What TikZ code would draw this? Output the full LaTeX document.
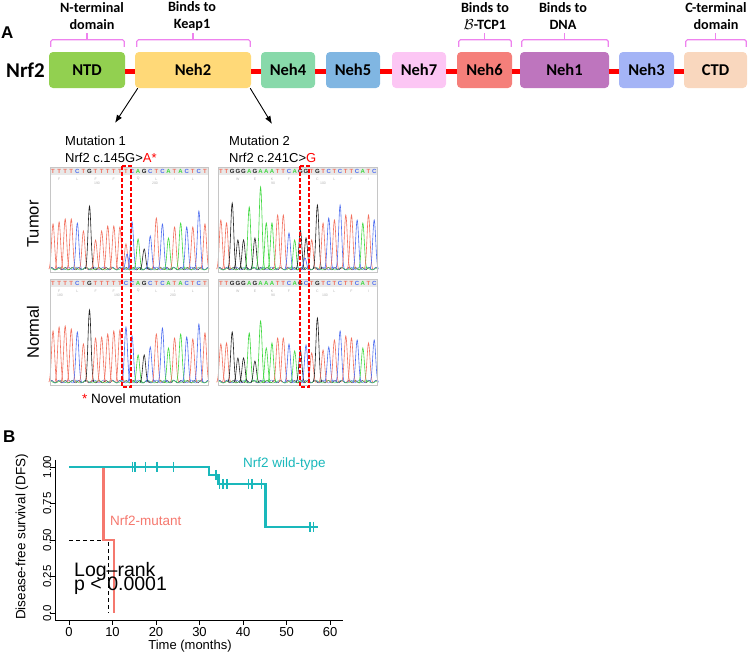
\documentclass[tikz,border=0pt]{standalone}
\usepackage{fontspec}
\setmainfont{Liberation Sans}
\newfontfamily\calibri{Carlito}
\usetikzlibrary{arrows.meta}

% domain colours
\definecolor{ntdgreen}{HTML}{92D050}
\definecolor{nehtwo}{HTML}{FFD978}
\definecolor{nehfour}{HTML}{88D9AA}
\definecolor{nehfive}{HTML}{80B6E2}
\definecolor{nehseven}{HTML}{FCC6F4}
\definecolor{nehsix}{HTML}{F57F7A}
\definecolor{nehone}{HTML}{BE75BE}
\definecolor{nehthree}{HTML}{A4B4F6}
\definecolor{ctdpeach}{HTML}{F9D7BE}
\definecolor{bracepink}{HTML}{EE82EE}
% trace colours
\definecolor{baseT}{HTML}{F2705E}
\definecolor{baseC}{HTML}{4F6EF0}
\definecolor{baseG}{HTML}{222222}
\definecolor{baseA}{HTML}{3FD83F}
% survival colours
\definecolor{wtteal}{HTML}{1AB8BB}
\definecolor{mutsalmon}{HTML}{F5786E}

% one sequencing trace: name, left x, top y, baseline y, spacing, base/height list
\newcommand{\seqtrace}[6]{%
  \foreach \bas/\hgt [count=\i] in {#6} {%
    \pgfmathsetmacro{\pk}{#2+(\i-0.5)*#5}%
    \draw[tracepeak, color=base\bas] plot[domain=-4.2:4.2, samples=19, smooth]
        ({\pk+(\x)}, {#4-\hgt*exp(-(\x)*(\x)/4.4)});
    \node[seqletter, text=base\bas] (#1\i) at (\pk, #3+4.5) {\bas};
  }}

\begin{document}
\begin{tikzpicture}[
    x=1pt, y=-1pt,
    >={Latex[length=8pt,width=6pt]},
    domainbox/.style={
        rounded corners=4pt, minimum height=36pt, inner sep=0pt,
        font=\calibri\bfseries\fontsize{16.5}{17}\selectfont
    },
    linker/.style={draw=red, line width=5pt},
    bracemark/.style={draw=bracepink, line width=1.2pt, rounded corners=1.5pt},
    bracelbl/.style={align=center, inner sep=0pt,
        font=\calibri\bfseries\fontsize{14.2}{17}\selectfont},
    panellbl/.style={anchor=base west, inner sep=0pt,
        font=\bfseries\fontsize{17}{17}\selectfont},
    mutlbl/.style={anchor=base west, inner sep=0pt,
        font=\fontsize{13}{13}\selectfont},
    sidelbl/.style={rotate=90, inner sep=0pt,
        font=\fontsize{16.5}{16.5}\selectfont},
    seqletter/.style={inner sep=0pt, font=\bfseries\fontsize{6}{6}\selectfont},
    aalbl/.style={inner sep=0pt, text=gray!60, font=\fontsize{3.5}{3.5}\selectfont},
    tracepeak/.style={line width=0.6pt},
    noise/.style={line width=0.4pt},
    panelframe/.style={draw=gray!45, line width=0.8pt},
    headerband/.style={fill=gray!18},
    mutbox/.style={draw=red, line width=1.3pt, dash pattern=on 4pt off 2pt},
    axisline/.style={draw=black, line width=0.8pt},
    wtline/.style={draw=wtteal, line width=2.6pt},
    mutline/.style={draw=mutsalmon, line width=2.6pt},
    censor/.style={draw=wtteal, line width=1.4pt},
    median/.style={draw=black, line width=0.9pt, dash pattern=on 4pt off 3pt},
    kmtext/.style={anchor=base west, inner sep=0pt,
        font=\fontsize{13.5}{13.5}\selectfont}
]
\useasboundingbox (0,0) rectangle (750,659);

% ---------- A: domain map ----------
\node[panellbl] (lblA) at (1,38) {A};
\node[anchor=base west, inner sep=0pt,
      font=\calibri\bfseries\fontsize{21}{21}\selectfont] (nrf2) at (6,77) {Nrf2};

\node[domainbox, fill=ntdgreen, minimum width=76pt]  (ntd)  at (87,70)    {NTD};
\node[domainbox, fill=nehtwo, minimum width=116pt]   (neh2) at (193,70)   {Neh2};
\node[domainbox, fill=nehfour, minimum width=54pt]   (neh4) at (288,70)   {Neh4};
\node[domainbox, fill=nehfive, minimum width=54pt]   (neh5) at (353,70)   {Neh5};
\node[domainbox, fill=nehseven, minimum width=54pt]  (neh7) at (419,70)   {Neh7};
\node[domainbox, fill=nehsix, minimum width=55pt]    (neh6) at (484.5,70) {Neh6};
\node[domainbox, fill=nehone, minimum width=89pt]    (neh1) at (564.5,70) {Neh1};
\node[domainbox, fill=nehthree, minimum width=55pt]  (neh3) at (646.5,70) {Neh3};
\node[domainbox, fill=ctdpeach, minimum width=63pt]  (ctd)  at (715.5,70) {CTD};

\foreach \a/\b in {ntd/neh2, neh2/neh4, neh4/neh5, neh5/neh7,
                   neh7/neh6, neh6/neh1, neh1/neh3, neh3/ctd}
    \draw[linker] ([yshift=-1pt]\a.east) -- ([yshift=-1pt]\b.west);

% brackets over the annotated domains
\foreach \n in {ntd, neh2, neh6, neh1, ctd} {
    \draw[bracemark] ([xshift=2pt,yshift=5pt]\n.north west)
        |- ([xshift=-1pt,yshift=12pt]\n.north east)
        -- ([xshift=-1pt,yshift=5pt]\n.north east);
    \draw[bracemark] ([yshift=12pt]\n.north) -- ([yshift=19pt]\n.north);
}

\node[bracelbl] (ntdlbl)  at (92,16)  {N-terminal\\domain};
\node[bracelbl] (keaplbl) at (192,16) {Binds to\\Keap1};
\node[bracelbl] (tcplbl)  at (485,16) {Binds to\\$\mathcal{B}$-TCP1};
\node[bracelbl] (dnalbl)  at (563,16) {Binds to\\DNA};
\node[bracelbl] (ctdlbl)  at (716,16) {C-terminal\\domain};

% arrows to the two mutations
\coordinate (tipone) at (115,123);
\coordinate (tiptwo) at (272,124);
\draw[->, line width=0.9pt] ([xshift=3pt]neh2.south west) -- (tipone);
\draw[->, line width=0.9pt] ([xshift=-1pt]neh2.south east) -- (tiptwo);

\node[mutlbl] (mutone)    at (65,145)  {Mutation 1};
\node[mutlbl] (mutonesub) at (65,162)  {Nrf2 c.145G>{\color{red}A*}};
\node[mutlbl] (muttwo)    at (229,145) {Mutation 2};
\node[mutlbl] (muttwosub) at (229,162) {Nrf2 c.241C>{\color{red}G}};

\node[sidelbl] (tumorlbl)  at (33,224) {Tumor};
\node[sidelbl] (normallbl) at (33,332) {Normal};

% ---------- chromatograms ----------
\foreach \px/\py/\w/\bl in {50/167/158/270, 218/167/159/270, 50/279/158/383, 218/279/159/383} {
    \fill[headerband] (\px,\py) rectangle ++(\w,8);
    \draw[noise, color=baseG] plot[domain=0:\w, samples=160, smooth]
        ({\px+\x}, {\bl-1.3-1.2*sin(\x*53)});
    \draw[noise, color=baseC] plot[domain=0:\w, samples=160, smooth]
        ({\px+\x}, {\bl-1.5-1.4*sin(\x*41+60)});
    \draw[noise, color=baseA] plot[domain=0:\w, samples=160, smooth]
        ({\px+\x}, {\bl-1.2-1.1*sin(\x*29+120)});
}

\seqtrace{tone}{50}{167}{270}{6.077}{T/46, T/48, T/51, T/51, C/47, T/39, G/64, T/30, T/39, T/44, T/44, T/43, T/26,
    C/48, A/31, G/21, C/34, T/52, C/46, A/32, T/43, A/47, C/43, T/43, C/59, T/46}
\seqtrace{none}{50}{279}{383}{6.077}{T/52, T/56, T/57, T/54, C/51, T/39, G/73, T/45, T/46, T/49, T/52, T/53, C/56,
    C/47, A/28, G/28, C/36, T/49, C/55, A/35, T/45, A/49, C/46, T/44, C/59, T/50}
\seqtrace{ttwo}{218}{167}{270}{5.68}{T/50, T/47, G/67, G/30, G/30, A/63, G/32, A/83, A/47, A/47, T/55, T/55, C/37,
    A/30, G/40, G/32, T/30, G/65, T/47, C/52, T/50, C/65, T/55, T/55, C/50, A/47, T/55, C/50}
\seqtrace{ntwo}{218}{279}{383}{5.68}{T/39, T/40, G/51, G/25, G/25, A/50, G/22, A/62, A/35, A/40, T/45, T/45, C/39,
    A/32, G/33, C/38, T/30, G/65, T/33, C/36, T/43, C/52, T/47, T/45, C/43, A/35, T/40, C/43}

% secondary peaks at the mutated bases
\draw[tracepeak, color=baseC] plot[domain=-4.2:4.2, samples=19, smooth]
    ({127+(\x)}, {270-16*exp(-(\x)*(\x)/4.4)});
\draw[tracepeak, color=baseC] plot[domain=-4.2:4.2, samples=19, smooth]
    ({305+(\x)}, {270-12*exp(-(\x)*(\x)/4.4)});

% amino acid rows and trace positions
\foreach \a/\n [count=\i] in {F/2, L/5, F/8, F/11, Q/15, L/18, I/21, L/24} {
    \node[aalbl] (aatone\i) at ({50+(\n-0.5)*6.077}, 179) {\a};
    \node[aalbl] (aanone\i) at ({50+(\n-0.5)*6.077}, 291) {\a};
}
\foreach \a/\n [count=\i] in {W/4, E/7, K/10, F/13, C/18, L/21, F/24, I/27} {
    \node[aalbl] (aattwo\i) at ({218+(\n-0.5)*5.68}, 179) {\a};
    \node[aalbl] (aantwo\i) at ({218+(\n-0.5)*5.68}, 291) {\a};
}
\node[aalbl] (posa) at (97,183.5)  {190};
\node[aalbl] (posb) at (155,183.5) {200};
\node[aalbl] (posc) at (273,183.5) {90};
\node[aalbl] (posd) at (323,183.5) {100};
\node[aalbl] (pose) at (60,295.5)  {180};
\node[aalbl] (posf) at (117,295.5) {190};
\node[aalbl] (posg) at (173,295.5) {200};
\node[aalbl] (posh) at (273,295.5) {90};
\node[aalbl] (posi) at (325,295.5) {100};

\foreach \px/\py/\w/\hh in {50/167/158/105, 218/167/159/105, 50/279/158/106, 218/279/159/106}
    \draw[panelframe] (\px,\py) rectangle ++(\w,\hh);

\draw[mutbox] (122,166) rectangle (131,387);
\draw[mutbox] (300,166) rectangle (309,387);

\node[mutlbl, font=\fontsize{13.5}{13.5}\selectfont] (novel) at (82,403)
    {{\color{red}*} Novel mutation};

% ---------- B: disease-free survival ----------
\node[panellbl] (lblB) at (3,442) {B};

\begin{scope}[shift={(69,613)}, x=4.35pt, y=146pt]
    \draw[axisline] (-3.22,1.048) -- (-3.22,-0.048) -- (63,-0.048);
    \foreach \t in {0,10,...,60} {
        \draw[axisline] (\t,-0.048) -- ++(0,-0.034);
        \node[anchor=base, inner sep=0pt, font=\fontsize{13}{13}\selectfont]
            (xt\t) at (\t,-0.158) {\t};
    }
    \foreach \s/\l [count=\i] in {0/0.0, 0.25/0.25, 0.5/0.50, 0.75/0.75, 1/1.00} {
        \draw[axisline] (-3.22,\s) -- ++(-1.1,0);
        \node[rotate=90, inner sep=0pt, font=\fontsize{11.5}{11.5}\selectfont]
            (yt\i) at (-5.0,\s) {\l};
    }

    \draw[median] (0,0.5) -- (9.1,0.5) -- (9.1,0);
    \draw[mutline] (7.9,1) -- (7.9,0.5) -- (10.3,0.5) -- (10.3,0);
    \draw[wtline] (0,1) -- (32.2,1) -- (32.2,0.945) -- (34.3,0.945) -- (34.3,0.884)
        -- (45.2,0.884) -- (45.2,0.589) -- (57.3,0.589);
    \foreach \t/\s in {14.6/1, 15.2/1, 17.6/1, 20.2/1, 24/1, 33.8/0.945,
                       34.6/0.884, 35.4/0.884, 36.3/0.884, 41.3/0.884, 42.1/0.884,
                       44.2/0.884, 55.4/0.589, 56.2/0.589}
        \draw[censor] (\t,\s) ++(0,0.035) -- ++(0,-0.07);

    \node[kmtext, text=wtteal]    (wtlbl)  at (40,1.0)    {Nrf2 wild-type};
    \node[kmtext, text=mutsalmon] (mutlbl) at (9.4,0.596) {Nrf2-mutant};
    \node[kmtext, font=\fontsize{19.5}{19.5}\selectfont] (logrank) at (1.15,0.247) {Log--rank};
    \node[kmtext, font=\fontsize{19.5}{19.5}\selectfont] (pval)    at (1.15,0.151) {p < 0.0001};
\end{scope}

\node[rotate=90, inner sep=0pt, font=\fontsize{13.5}{13.5}\selectfont] (ylbl) at (22,537)
    {Disease-free survival (DFS)};
\node[anchor=base, inner sep=0pt, font=\fontsize{13}{13}\selectfont] (xlbl) at (190,649)
    {Time (months)};

\end{tikzpicture}
\end{document}
